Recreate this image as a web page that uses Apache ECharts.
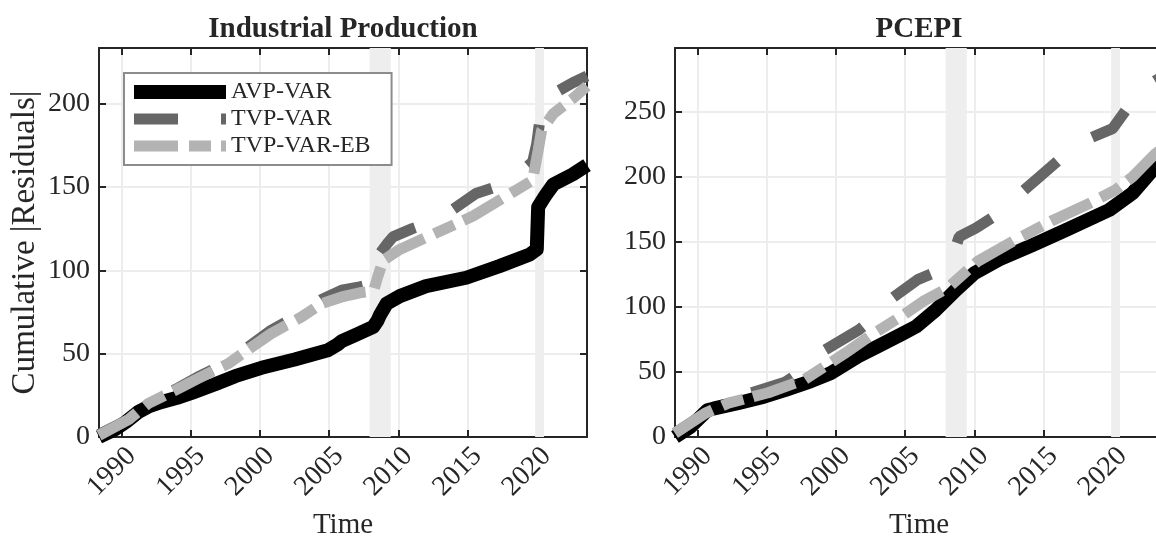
<!DOCTYPE html>
<html><head><meta charset="utf-8">
<script src="https://cdn.jsdelivr.net/npm/echarts@6/dist/echarts.min.js"></script>
<style>html,body{margin:0;padding:0;background:#fff}#c{width:1156px;height:538px}</style>
</head><body><div id="c"></div>
<script>
// ---------------- data ----------------
const panelTitles = ['Industrial Production', 'PCEPI'];
const seriesNames = ['AVP-VAR', 'TVP-VAR', 'TVP-VAR-EB'];
const xTickLabels = [1990, 1995, 2000, 2005, 2010, 2015, 2020];
const timeRange = [1988.36, 2023.63];
const yMaxByPanel = [233.3, 299];
const recessions = [[2007.92, 2009.45], [2019.88, 2020.52]];

// Industrial Production
const ipAvpYears  = [1988.36,1989.5,1990.3,1991.2,1992.0,1992.9,1994.0,1995.06,1996.7,1998.2,2000.1,2002.5,2004.9,2005.6,2005.9,2007.0,2008.18,2008.5,2008.66,2009.15,2010.1,2012.0,2014.9,2017.3,2019.5,2020.0,2020.1,2020.6,2021.2,2022.6,2023.63];
const ipAvpValues = [0,4.5,9,15,18.5,21,23.5,26.5,31.5,36.5,41.5,46.5,52,55.5,57.5,61.5,66,70,73,80,84.5,90.5,95.5,102.5,109.5,112.5,138,144.5,151.5,157.5,163];
const ipTvpYears  = [1988.36,1990.5,1991.9,1994.1,1995.5,1997.7,1998.9,2000.8,2003.0,2004.45,2005.9,2007.2,2008.2,2008.5,2008.66,2009.2,2009.6,2011.0,2012.75,2013.95,2015.6,2017.8,2019.0,2019.7,2020.0,2020.3,2020.7,2022.6,2023.63];
const ipTvpValues = [1.5,10.5,20.5,29.5,36,45,52.5,64,74,82.5,88,90,92,102,110,116,120,125,130,136.5,146,152,160,165,176,195,203.5,212.5,216.5];
const ipEbYears   = [1988.36,1990.5,1991.9,1994.1,1995.5,1997.7,1998.9,2000.8,2003.0,2004.45,2005.9,2007.2,2008.2,2008.5,2008.9,2010.1,2012.75,2015.4,2017.8,2019.7,2020.1,2020.35,2021.2,2022.6,2023.63];
const ipEbValues  = [1,10.5,20,29,35,44,51,62,72,80,84,86.5,87.5,96,106,112.5,122.5,132.5,144.5,154,172,184,194,203,210.5];

// PCEPI
const pcAvpYears  = [1988.36,1989.5,1990.7,1991.2,1992.9,1994.8,1996.3,1998.2,1999.6,2001.6,2003.0,2004.9,2005.8,2007.2,2008.66,2010.0,2011.8,2014.2,2016.6,2019.74,2021.43,2023.1,2023.63];
const pcAvpValues = [0,8,20.5,22,26,31,36,43,49,62,69.5,80,85,97.5,113,126,136.5,147.5,159,174.5,187.5,208,213];
const pcTvpYears  = [1988.36,1990.5,1992.2,1993.6,1996.3,1997.7,1998.9,2001.6,2002.8,2003.7,2005.9,2007.5,2008.4,2008.9,2010.1,2011.5,2012.76,2014.7,2016.0,2017.3,2019.98,2021.0,2021.9,2023.1,2023.63];
const pcTvpValues = [3,18,26.5,33,42,52,65,82,92,104,121,128,138,154,160.5,170,182,200,212,225,237,252,266,274,277];
const pcEbYears   = [1988.36,1990.5,1992.2,1995.1,1997.7,2000.6,2002.5,2004.9,2006.26,2008.06,2010.23,2012.88,2015.65,2018.3,2020.2,2021.43,2023.1,2023.63];
const pcEbValues  = [3,18,26,34,44,64,78,94,104,114.5,135,151,166.5,179.5,190,200,218,222];

// ---------------- build ----------------
const panels = [
  [[ipAvpYears, ipAvpValues], [ipTvpYears, ipTvpValues], [ipEbYears, ipEbValues]],
  [[pcAvpYears, pcAvpValues], [pcTvpYears, pcTvpValues], [pcEbYears, pcEbValues]]
];
const FONT = "'Liberation Serif', 'Times New Roman', serif";
const INK = '#262626';
const lineStyles = [
  { color: '#000000', width: 14, type: 'solid', join: 'round' },
  { color: '#666666', width: 11, type: [44, 43] },
  { color: '#b3b3b3', width: 11, type: [44, 11, 22, 10] }
];
const gridLefts = [99, 675];
const gridW = 488;

const grids = gridLefts.map(l => ({ left: l, top: 48, width: gridW, height: 389, containLabel: false, outerBoundsMode: 'none' }));

function xLabelFmt(v) {
  const r = Math.round(v);
  return (Math.abs(v - r) < 1e-6 && xTickLabels.indexOf(r) >= 0) ? String(r) : '';
}

const xAxes = [], yAxes = [];
gridLefts.forEach((_, p) => {
  const common = {
    type: 'value', gridIndex: p, min: timeRange[0], max: timeRange[1],
    minInterval: 5, maxInterval: 5, splitNumber: 7,
    axisLine: { show: true, onZero: false, lineStyle: { color: INK, width: 2 } },
    axisTick: { show: true, inside: true, length: 7, lineStyle: { color: INK, width: 2 } }
  };
  xAxes.push(Object.assign({}, common, {
    position: 'bottom',
    name: 'Time', nameLocation: 'middle', nameGap: 74,
    nameTextStyle: { fontFamily: FONT, fontSize: 29, color: INK },
    axisLabel: { show: true, rotate: 45, margin: 5, verticalAlign: 'top', fontFamily: FONT, fontSize: 28, color: INK, formatter: xLabelFmt },
    splitLine: { show: true, lineStyle: { color: '#ededed', width: 2 } }
  }));
  xAxes.push(Object.assign({}, common, {
    position: 'top', axisLabel: { show: false }, splitLine: { show: false }
  }));
  const ycommon = {
    type: 'value', gridIndex: p, min: 0, max: yMaxByPanel[p], interval: 50,
    axisLine: { show: true, onZero: false, lineStyle: { color: INK, width: 2 } },
    axisTick: { show: true, inside: true, length: 7, lineStyle: { color: INK, width: 2 } }
  };
  yAxes.push(Object.assign({}, ycommon, {
    position: 'left',
    name: p === 0 ? 'Cumulative |Residuals|' : '', nameLocation: 'middle', nameGap: 57,
    nameTextStyle: { fontFamily: FONT, fontSize: 33, color: INK },
    axisLabel: { show: true, margin: 9, fontFamily: FONT, fontSize: 28, color: INK, showMaxLabel: false },
    splitLine: { show: true, lineStyle: { color: '#ededed', width: 2 } }
  }));
  yAxes.push(Object.assign({}, ycommon, {
    position: 'right', axisLabel: { show: false }, splitLine: { show: false }
  }));
});

const series = [];
panels.forEach((panel, p) => {
  panel.forEach((pair, s) => {
    const [yrs, vals] = pair;
    const ser = {
      name: seriesNames[s], type: 'line',
      xAxisIndex: p * 2, yAxisIndex: p * 2,
      data: yrs.map((y, i) => [y, vals[i]]),
      symbol: 'none', showSymbol: false, smooth: false,
      lineStyle: lineStyles[s], itemStyle: { color: lineStyles[s].color },
      z: 2 + s, silent: true
    };
    if (s === 0) {
      ser.markArea = {
        silent: true,
        itemStyle: { color: '#eeeeee' },
        data: recessions.map(r => [{ xAxis: r[0] }, { xAxis: r[1] }])
      };
    }
    series.push(ser);
  });
});

const option = {
  animation: false,
  backgroundColor: '#ffffff',
  title: panelTitles.map((t, p) => ({
    text: t, left: gridLefts[p] + gridW / 2, top: 15, padding: 0, textAlign: 'center',
    textStyle: { fontFamily: FONT, fontSize: 29, fontWeight: 'bold', color: INK }
  })),
  legend: {
    data: seriesNames, orient: 'vertical', left: 124, top: 73,
    padding: [7, 21, 7, 3], itemGap: 3, itemWidth: 92, itemHeight: 15,
    borderColor: '#8c8c8c', borderWidth: 2, backgroundColor: '#ffffff',
    selectedMode: false,
    lineStyle: { width: 'inherit', type: 'inherit', color: 'inherit' },
    itemStyle: { opacity: 0 },
    textStyle: { fontFamily: FONT, fontSize: 24, color: INK }
  },
  grid: grids,
  xAxis: xAxes,
  yAxis: yAxes,
  series: series
};
const chart = echarts.init(document.getElementById('c'), null, { renderer: 'canvas' });
chart.setOption(option);
</script></body></html>
